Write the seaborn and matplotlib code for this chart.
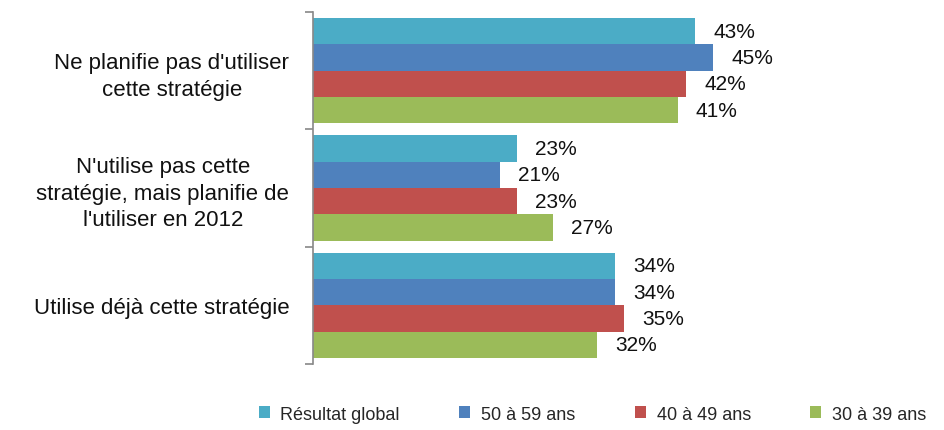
import matplotlib.pyplot as plt
import seaborn as sns
import pandas as pd

# --- Data ---
categories = ["Ne planifie pas d'utiliser\ncette stratégie",
              "N'utilise pas cette\nstratégie, mais planifie de\nl'utiliser en 2012",
              "Utilise déjà cette stratégie"]
series = ["Résultat global", "50 à 59 ans", "40 à 49 ans", "30 à 39 ans"]
values = {
    "Résultat global": [43, 23, 34],
    "50 à 59 ans": [45, 21, 34],
    "40 à 49 ans": [42, 23, 35],
    "30 à 39 ans": [41, 27, 32],
}
colors = ["#4BACC6", "#4F81BD", "#C0504D", "#9BBB59"]

rows = []
for s in series:
    for c, v in zip(categories, values[s]):
        rows.append({"cat": c, "serie": s, "val": v})
df = pd.DataFrame(rows)

# --- Styling ---
sns.set_theme(style="white")
plt.rcParams['font.family'] = ['Liberation Sans', 'DejaVu Sans']

fig = plt.figure(figsize=(9.45, 4.31), dpi=100)
ax = fig.add_axes([0.331, 0.153, 0.659, 0.817])

sns.barplot(data=df, y="cat", x="val", hue="serie", order=categories,
            hue_order=series, palette=colors, orient="h", width=0.9,
            saturation=1, edgecolor="none", legend=True, ax=ax)

ax.set_xlim(0, 70)
ax.set_ylim(2.5, -0.5)
ax.set_xlabel("")
ax.set_ylabel("")
ax.set_xticks([])

# category separator ticks on the left axis, labels centred
ax.set_yticks([-0.5, 0.5, 1.5, 2.5])
ax.set_yticklabels([])
ax.tick_params(axis='y', which='major', length=6, width=1.2, color='#888888', left=True)
ax.set_yticks(range(len(categories)), minor=True)
ax.set_yticklabels(categories, minor=True, fontsize=16, multialignment='center',
                   linespacing=1.35, color='#111111')
ax.tick_params(axis='y', which='minor', length=0, pad=17)

for sp in ['top', 'right', 'bottom']:
    ax.spines[sp].set_visible(False)
ax.spines['left'].set_color('#888888')
ax.spines['left'].set_linewidth(1.2)

# value labels
for cont in ax.containers:
    ax.bar_label(cont, labels=[f"{int(v)}%" for v in cont.datavalues],
                 padding=13, fontsize=15, color='#111111')

# legend at bottom
handles, labels = ax.get_legend_handles_labels()
ax.get_legend().remove()
fig.legend(handles, labels, loc='center', bbox_to_anchor=(0.627, 0.037), ncol=4,
           frameon=False, fontsize=13, handlelength=0.6, handleheight=0.6,
           handletextpad=0.6, columnspacing=3.3)

fig.savefig("out.png", dpi=100)
